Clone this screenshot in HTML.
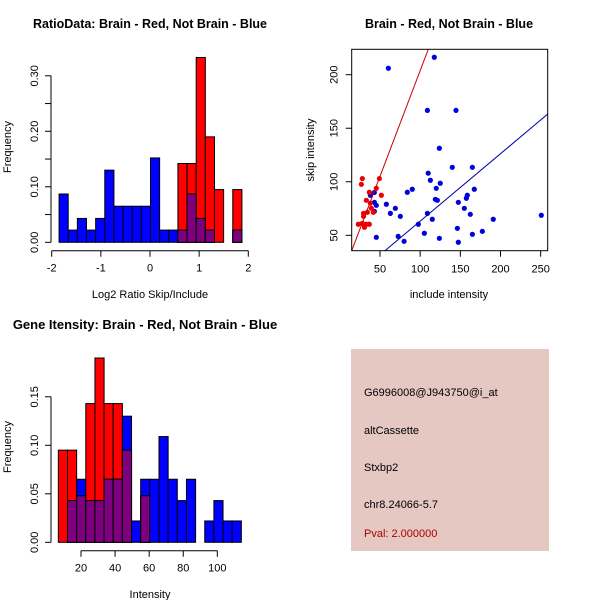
<!DOCTYPE html>
<html><head><meta charset="utf-8"><style>
html,body{margin:0;padding:0;background:#fff}
svg{display:block;font-family:"Liberation Sans",Arial,sans-serif}
</style></head><body>
<svg id="c" width="600" height="600" viewBox="0 0 600 600" xmlns="http://www.w3.org/2000/svg"></svg>
<script>
// ---- Data: ratio histogram ----
const ratioBinStart = -1.85;
const ratioBinWidth = 0.186;
const ratioBlue = [0.087,0.022,0.043,0.022,0.043,0.13,0.065,0.065,0.065,0.065,0.152,0.022,0.022,0.022,0.087,0.043,0.022,0,0,0.022];
const ratioRed  = [0,0,0,0,0,0,0,0,0,0,0,0,0,0.142,0.142,0.333,0.19,0.095,0,0.095];
const ratioXTicks = [-2,-1,0,1,2];
const ratioYTicks = [0,0.05,0.10,0.15,0.20,0.25,0.30];
const ratioYLabels = ["0.00","","0.10","","0.20","","0.30"];
// ---- Data: scatter ----
const blueX = [60.4,117.6,109,144.6,123.9,140,165,110,112.7,125,120,90.2,84,167.4,158.7,157.5,118.9,121.4,147.5,57.9,45.4,69.1,155,62.9,109,75.3,162.4,250.8,97.7,115.1,191,146.3,177.4,105.2,165,45.4,72.6,80,123.9,147.5,38,43,43,43];
const blueY = [206,216.3,166.7,166.7,131.3,113.5,113.5,108,101.4,98.6,93.9,93,90.2,93,87.4,84.6,83.6,82.7,80.8,79,78,75.2,75.2,70.5,70.5,67.7,69.6,68.7,60.3,65,65,56.5,53.7,51.9,50.9,48.1,49,44.4,47.2,43.5,87.4,90,80.8,72.4];
const redX = [28,26.8,49.2,45.4,51.7,36.7,33,38,39.3,34.3,29.5,41.7,29.5,23,28,33,36.7,30.7];
const redY = [103,97.6,103,93.9,87.4,90.2,82.7,80,75.2,71.5,70.5,71.5,67.7,60.3,61.2,60.3,60.3,57.5];
const redFit = [6.4,1.974];   // intercept, slope
const blueFit = [0.2,0.63];
const scXTicks = [50,100,150,200,250];
const scYTicks = [50,100,150,200];
// ---- Data: intensity histogram ----
const intBinStart = 6.7;
const intBinWidth = 5.37;
const intRed  = [0.095,0.095,0.048,0.143,0.19,0.143,0.143,0.095,0,0.048,0,0,0,0,0,0,0,0,0,0];
const intBlue = [0,0.043,0.065,0.043,0.043,0.065,0.065,0.13,0.022,0.065,0.065,0.109,0.065,0.043,0.065,0,0.022,0.043,0.022,0.022];
const intXTicks = [20,40,60,80,100];
const intYTicks = [0,0.05,0.10,0.15];
const intYLabels = ["0.00","0.05","0.10","0.15"];

const svg = document.getElementById('c');
const NS = 'http://www.w3.org/2000/svg';
function mk(tag, attrs, parent){
  const e = document.createElementNS(NS, tag);
  for (const k in attrs) e.setAttribute(k, attrs[k]);
  (parent||svg).appendChild(e);
  return e;
}
function txt(x,y,s,size,opts,parent){
  const t = mk('text',{x:x,y:y,'font-size':size,'text-anchor':'middle',fill:'#000'},parent);
  if (opts) for (const k in opts) t.setAttribute(k, opts[k]);
  t.textContent = s;
  return t;
}

function histogram(name, cfg){
  const g = mk('g',{});
  
  
  const sx = v => cfg.x0 + (v - cfg.xv0) * cfg.kx;
  const sy = v => cfg.y0 - v * cfg.ky;
  const n = cfg.red.length;
  for (let i=0;i<n;i++){
    const l = sx(cfg.start + i*cfg.width), r = sx(cfg.start + (i+1)*cfg.width);
    const rv = cfg.red[i], bv = cfg.blue[i];
    if (rv>0){
      const b = mk('rect',{x:l,y:sy(rv),width:r-l,height:sy(0)-sy(rv),fill:'#ff0000',stroke:'#000','stroke-width':1},g);
      
      
    }
    if (bv>0){
      const b = mk('rect',{x:l,y:sy(bv),width:r-l,height:sy(0)-sy(bv),fill:'#0000ff',stroke:'#000','stroke-width':1},g);
      
      
    }
    const m = Math.min(rv,bv);
    if (m>0){
      const b = mk('rect',{x:l,y:sy(m),width:r-l,height:sy(0)-sy(m),fill:'#7f007f',stroke:'#000','stroke-width':1},g);
      
      
    }
  }
  const ya = mk('g',{},g);
  
  
  const yt = cfg.yticks;
  mk('line',{x1:cfg.yaxX,x2:cfg.yaxX,y1:sy(yt[0]),y2:sy(yt[yt.length-1]),stroke:'#000'},ya);
  yt.forEach((v,i)=>{
    mk('line',{x1:cfg.yaxX-6,x2:cfg.yaxX,y1:sy(v),y2:sy(v),stroke:'#000'},ya);
    if (cfg.ylabels[i]) {
      const t = txt(cfg.yaxX-13, sy(v), cfg.ylabels[i], 11, {transform:`rotate(-90 ${cfg.yaxX-13} ${sy(v)})`}, ya);
      
      
    }
  });
  const xa = mk('g',{},g);
  
  
  const xt = cfg.xticks;
  mk('line',{x1:sx(xt[0]),x2:sx(xt[xt.length-1]),y1:cfg.xaxY,y2:cfg.xaxY,stroke:'#000'},xa);
  xt.forEach(v=>{
    mk('line',{x1:sx(v),x2:sx(v),y1:cfg.xaxY,y2:cfg.xaxY+6,stroke:'#000'},xa);
    const t = txt(sx(v), cfg.xaxY+21, String(v), 11, null, xa);
    
    
  });
  const xl = txt(cfg.xlabX, cfg.xlabY, cfg.xlab, 11, null, g);
  
  
  const yl = txt(11, cfg.ylabY, 'Frequency', 11, {transform:`rotate(-90 11 ${cfg.ylabY})`}, g);
  
  
  const tt = txt(cfg.titleX, cfg.titleY, cfg.title, cfg.titleSize, {'font-weight':'bold'}, g);
  
  
}

histogram('ratio-histogram', {
  x0:51.7, xv0:-2, kx:49.15, y0:242.3, ky:555,
  start:ratioBinStart, width:ratioBinWidth, red:ratioRed, blue:ratioBlue,
  yticks:ratioYTicks, ylabels:ratioYLabels, yaxX:51, xticks:ratioXTicks, xaxY:250.7,
  xlab:'Log2 Ratio Skip/Include', xlabX:150, xlabY:298, ylabY:147,
  title:'RatioData: Brain - Red, Not Brain - Blue', titleX:150, titleY:28, titleSize:12.5
});
histogram('intensity-histogram', {
  x0:81, xv0:20, kx:1.704, y0:542.3, ky:970,
  start:intBinStart, width:intBinWidth, red:intRed, blue:intBlue,
  yticks:intYTicks, ylabels:intYLabels, yaxX:51, xticks:intXTicks, xaxY:550.7,
  xlab:'Intensity', xlabX:150, xlabY:598, ylabY:447,
  title:'Gene Itensity: Brain - Red, Not Brain - Blue', titleX:145, titleY:329, titleSize:13
});

(function(){
  const g = mk('g',{});
  
  
  const L=351.7,R=547.7,T=49.3,B=250.7;
  const sx = v => 380 + (v-50)*0.8033;
  const sy = v => 235.3 - (v-50)*1.0707;
  const cpth = mk('clipPath',{id:'sc'},g);
  mk('rect',{x:L,y:T,width:R-L,height:B-T},cpth);
  const pg = mk('g',{'clip-path':'url(#sc)'},g);
  blueX.forEach((x,i)=>{
    const c = mk('circle',{cx:sx(x),cy:sy(blueY[i]),r:2.6,fill:'#0000dd'},pg);
    
    
  });
  redX.forEach((x,i)=>{
    const c = mk('circle',{cx:sx(x),cy:sy(redY[i]),r:2.6,fill:'#ee0000'},pg);
    
    
  });
  const xa=0, xb=300;
  const rl = mk('line',{x1:sx(xa),y1:sy(redFit[0]+redFit[1]*xa),x2:sx(xb),y2:sy(redFit[0]+redFit[1]*xb),stroke:'#cc0000','stroke-width':1},pg);
  
  
  const bl = mk('line',{x1:sx(xa),y1:sy(blueFit[0]+blueFit[1]*xa),x2:sx(xb),y2:sy(blueFit[0]+blueFit[1]*xb),stroke:'#0000aa','stroke-width':1},pg);
  
  
  const box = mk('rect',{x:L,y:T,width:R-L,height:B-T,fill:'none',stroke:'#000'},g);
  
  
  scXTicks.forEach(v=>{
    mk('line',{x1:sx(v),x2:sx(v),y1:B,y2:B+6,stroke:'#000'},g);
    const t = txt(sx(v),B+22,String(v),11,null,g);
    
    
  });
  scYTicks.forEach(v=>{
    mk('line',{x1:L-6,x2:L,y1:sy(v),y2:sy(v),stroke:'#000'},g);
    const t = txt(L-14,sy(v),String(v),11,{transform:`rotate(-90 ${L-14} ${sy(v)})`},g);
    
    
  });
  const xl = txt(449,298,'include intensity',11,null,g);
  
  
  const yl = txt(314,150,'skip intensity',11,{transform:'rotate(-90 314 150)'},g);
  
  
  const tt = txt(449,28,'Brain - Red, Not Brain - Blue',12.5,{'font-weight':'bold'},g);
  
  
})();

(function(){
  const g = mk('g',{});
  
  
  mk('rect',{x:351,y:349,width:198,height:202,fill:'#e6c8c2'},g);
  const lines = [['G6996008@J943750@i_at',396,'#000','probe-id'],['altCassette',434,'#000','event-type'],['Stxbp2',471,'#000','gene-name'],['chr8.24066-5.7',508,'#000','location'],['Pval: 2.000000',537,'#aa0000','p-value']];
  lines.forEach(l=>{
    const t = txt(364,l[1],l[0],11,{'text-anchor':'start',fill:l[2]},g);
    
    
  });
})();
</script>
</body></html>
